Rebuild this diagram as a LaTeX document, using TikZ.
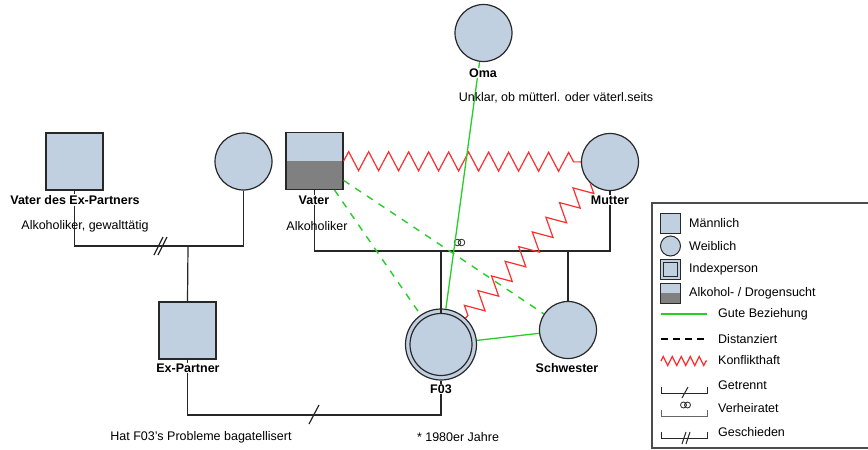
\documentclass[tikz,border=0pt]{standalone}
\usepackage{fontspec}
\setmainfont{Liberation Sans}
\usetikzlibrary{decorations.pathmorphing}
\definecolor{pers}{RGB}{193,208,224}
\definecolor{alk}{RGB}{128,128,128}
\definecolor{rand}{RGB}{40,40,40}
\definecolor{gruen}{RGB}{40,205,40}
\definecolor{rot}{RGB}{255,45,45}
\tikzset{
  male/.style={draw=rand, fill=pers, line width=1.2pt, minimum size=57pt, inner sep=0pt},
  female/.style={male, circle},
  sucht/.style={male, path picture={\fill[alk] (path picture bounding box.west) rectangle (path picture bounding box.south east);}},
  indexp/.style={female, minimum size=71pt},
  fam/.style={line width=1.2pt, draw=black!85},
  gut/.style={line width=1.3pt, draw=gruen},
  dist/.style={line width=1.4pt, draw=gruen, dash pattern=on 7pt off 7pt},
  konflikt/.style={line width=1.2pt, draw=rot, decorate, decoration={zigzag, segment length=20pt, amplitude=9.5pt}},
  lbl/.style={font=\bfseries, fill=white, inner sep=1pt},
  txt/.style={inner sep=0pt},
  lmale/.style={male, minimum size=20pt, line width=1pt},
  lfemale/.style={lmale, circle}
}
\begin{document}
\fontsize{12.5pt}{15pt}\selectfont
\begin{tikzpicture}
[x=1pt,y=-1pt]
\useasboundingbox (0,0) rectangle (868,450);

\node[male] (vdx) at (74.5,161.5) {};
\node[female] (mdx) at (243.5,161.5) {};
\node[male] (exp) at (187.5,330.5) {};
\node[sucht] (vater) at (314.5,161) {};
\node[female] (mutter) at (610,162) {};
\node[female] (oma) at (483.5,33) {};
\node[indexp] (f03) at (441,344.5) {};
\node[circle, draw=rand, line width=1.2pt, minimum size=62pt] (f03in) at (f03) {};
\node[female] (schwester) at (568,330) {};

\coordinate (ehe1) at (188,246);
\coordinate (scheid) at (160,246);
\coordinate (ehe2) at (441,251);
\coordinate (ehe3) at (314,415);

\draw[fam] (vdx.south) |- (ehe1) -| (mdx.south);
\draw[fam] (ehe1) -- (exp.north);
\draw[fam] ([shift={(-6,9)}]scheid) -- ++(9,-18);
\draw[fam] ([shift={(-2,9)}]scheid) -- ++(9,-18);
\draw[fam] (exp.south) |- (ehe3) -| (f03.south);
\draw[fam] ([shift={(-5,9)}]ehe3) -- ++(10,-19);
\draw[fam] (vater.south) |- (ehe2) -| (mutter.south);
\draw[fam] (ehe2) -- (f03in.north);
\draw[fam] (schwester.north) -- (schwester.north |- ehe2);
\draw[fam, line width=0.8pt] (457.5,242.5) circle (3.3pt) (461.5,242.5) circle (3.3pt);

\draw[konflikt] (vater) -- (mutter);
\draw[konflikt] (mutter) -- (f03);
\draw[dist] (vater) -- (f03);
\draw[dist] (vater) -- (schwester);
\draw[gut] (f03) -- (schwester);
\draw[gut] (oma) -- (f03);

\node[lbl] (omal) at (483,73) {Oma};
\node[txt] (omat) at (556,98) {Unklar, ob mütterl. oder väterl.seits};
\node[lbl] (vdxl) at (75,200) {Vater des Ex-Partners};
\node[txt] (vdxt) at (85,226) {Alkoholiker, gewalttätig};
\node[lbl] (vaterl) at (314,200) {Vater};
\node[txt] (vatert) at (317,226) {Alkoholiker};
\node[lbl] (mutterl) at (610,200) {Mutter};
\node[lbl] (expl) at (188,368) {Ex-Partner};
\node[lbl] (f03l) at (441,389) {F03};
\node[lbl] (schwesterl) at (567,368) {Schwester};
\node[txt] (expt) at (201,437) {Hat F03's Probleme bagatellisert};
\node[txt] (f03t) at (458,437) {* 1980er Jahre};

\draw[line width=1.5pt, draw=black!70] (652,203) rectangle (872,448);
\node[lmale] (lm) at (670.5,223) {};
\node[txt, anchor=west] (lmt) at (689,223) {Männlich};
\node[lfemale] (lw) at (670.5,246) {};
\node[txt, anchor=west] (lwt) at (689,246) {Weiblich};
\node[lmale] (li) at (670.5,269) {};
\node[draw=rand, line width=1pt, minimum size=14pt, inner sep=0pt] (liin) at (li) {};
\node[txt, anchor=west] (lit) at (689,269) {Indexperson};
\node[lmale, path picture={\fill[alk] (path picture bounding box.west) rectangle (path picture bounding box.south east);}] (la) at (670.5,293) {};
\node[txt, anchor=west] (lat) at (689,293) {Alkohol- / Drogensucht};
\draw[gut] (661,314) -- (707,314);
\node[txt, anchor=west] (lgt) at (718,314) {Gute Beziehung};
\draw[line width=1.3pt, dash pattern=on 7pt off 5pt] (661,339) -- (707,339);
\node[txt, anchor=west] (ldt) at (718,339) {Distanziert};
\draw[line width=1.2pt, draw=rot, decorate, decoration={zigzag, segment length=9pt, amplitude=4.5pt}] (661,361) -- (707,361);
\node[txt, anchor=west] (lkt) at (718,360) {Konflikthaft};
\draw[fam, line width=1pt] (661,387) -- (661,393) -- (707,393) -- (707,387);
\draw[fam, line width=1pt] (682,398) -- (688,387);
\node[txt, anchor=west] (lgtt) at (718,385) {Getrennt};
\draw[fam, line width=1pt, draw=black!60] (661,410) -- (661,416) -- (707,416) -- (707,410);
\draw[fam, line width=0.8pt] (683.5,405) circle (3pt) (687.5,405) circle (3pt);
\node[txt, anchor=west] (lvt) at (718,408) {Verheiratet};
\draw[fam, line width=1pt] (661,432) -- (661,438) -- (707,438) -- (707,432);
\draw[fam, line width=1pt] (682,444) -- (686,432) (686,444) -- (690,432);
\node[txt, anchor=west] (lst) at (718,432) {Geschieden};
\end{tikzpicture}
\end{document}
